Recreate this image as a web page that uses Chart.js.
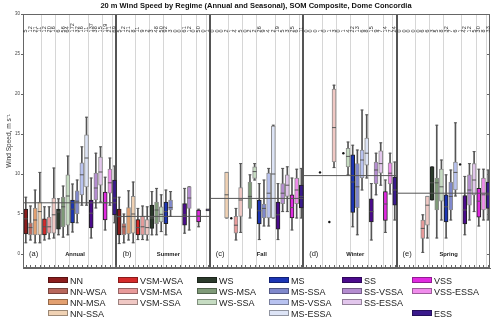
<!DOCTYPE html>
<html>
<head>
<meta charset="utf-8">
<script src="https://cdn.jsdelivr.net/npm/chart.js@4.4.0/dist/chart.umd.min.js"></script>
<style>
body { margin: 0; background: #fff; }
#wrap { position: relative; width: 500px; height: 322px; font-family: "Liberation Sans", Arial, sans-serif; overflow: hidden; }
#c { position: absolute; left: 0; top: 0; }
#title { position: absolute; left: 6px; top: 1px; width: 500px; text-align: center; font-size: 7.5px; line-height: 10px; font-weight: bold; color: #111; white-space: nowrap; }
.li { position: absolute; height: 11px; line-height: 11px; font-size: 9px; color: #222; white-space: nowrap; }
.sw { display: inline-block; width: 18px; height: 4px; vertical-align: middle; margin-right: 2px; margin-top: -2px; }
</style>
</head>
<body>
<div id="wrap">
  <canvas id="c" width="500" height="322"></canvas>
  <div id="title">20 m Wind Speed by Regime (Annual and Seasonal), SOM Composite, Dome Concordia</div>
  <div id="legend"></div>
</div>
<script>
// regimes, seasons and tick labels
const regimes = ['NN', 'NN-WSA', 'NN-MSA', 'NN-SSA', 'VSM-WSA', 'VSM-MSA', 'VSM-SSA', 'WS', 'WS-MSA', 'WS-SSA',
                 'MS', 'MS-SSA', 'MS-VSSA', 'MS-ESSA', 'SS', 'SS-VSSA', 'SS-ESSA', 'VSS', 'VSS-ESSA', 'ESS'];
const seasons = ['Annual', 'Summer', 'Fall', 'Winter', 'Spring'];
const panelTags = ['(a)', '(b)', '(c)', '(d)', '(e)'];
const seasonMeans = [6.4, 4.7, 6.95, 9.8, 7.6];
const yTicks = [0, 5, 10, 15, 20, 25, 30];

// box statistics, 20 regimes per season (Annual, Summer, Fall, Winter, Spring)
const whiskerLow = [
  1.4, 1.75, 1.4, 1.4, 1.75, 1.9, 2.0, 2.4, 2.1, 2.4, 2.75, 3.9, 6.1, 6.1, 2.0, 5.75, 6.5, 3.0, 6.1, 3.9,
  1.3, 1.4, 1.75, 1.4, 1.8, 1.8, 1.75, 2.4, 2.4, 2.8, 2.4, 4.7, null, null, 2.6, 3.0, null, 3.4, null, null,
  null, null, null, 4.5, null, 1.75, 2.7, null, 4.5, 9.25, 1.8, 3.5, 3.5, 4.5, 1.8, 5.3, 5.3, 3.0, 4.5, 4.5,
  null, null, null, null, null, null, 10.8, null, null, 9.9, 3.4, 2.4, 8.0, 9.5, 1.75, 7.4, 8.6, 2.7, 7.5, 4.25,
  null, null, null, null, null, 0.2, 2.0, 6.75, 2.0, 4.25, 2.0, 4.25, 7.25, null, 2.4, 4.25, 5.3, 3.5, 4.25, 4.25
];
const q1 = [
  2.5, 2.4, 2.4, 2.4, 2.4, 2.6, 2.6, 3.1, 3.4, 3.6, 3.9, 5.0, 7.4, 8.4, 3.25, 6.75, 8.6, 4.25, 7.6, 4.9,
  2.4, 2.4, 2.5, 2.6, 2.4, 2.4, 2.4, 3.2, 3.8, 4.0, 3.8, 5.5, null, null, 3.6, 5.7, null, 4.0, null, 5.4,
  null, null, null, 4.5, null, 2.6, 4.7, null, 5.7, 9.45, 3.75, 4.5, 4.5, 4.5, 3.1, 6.3, 7.2, 4.5, 6.3, 5.75,
  null, null, null, null, null, null, 11.5, null, null, 10.9, 5.2, 5.8, 9.5, 11.1, 4.0, 8.8, 10.1, 4.2, 8.75, 6.1,
  null, null, null, null, null, 1.96, 3.6, 6.75, 5.5, 6.6, 4.0, 5.5, 8.0, null, 3.75, 6.1, 7.4, 4.6, 5.5, 5.7
];
const median = [
  4.4, 3.3, 4.25, 5.3, 3.4, 3.4, 4.9, 5.25, 5.9, 7.25, 5.6, 6.6, 9.9, 12.0, 5.1, 8.25, 10.25, 6.4, 8.9, 7.0,
  4.66, 3.4, 4.7, 5.0, 3.3, 3.4, 3.3, 4.5, 5.5, 4.96, 5.3, 5.8, null, null, 4.9, 7.0, null, 4.75, null, 5.5,
  null, null, null, 7.4, null, 3.6, 6.75, null, 7.2, 10.3, 5.4, 5.7, 7.6, 10.0, 4.9, 7.6, 8.6, 5.8, 8.0, 7.2,
  null, null, null, null, null, null, 15.8, null, null, 12.2, 9.0, 8.4, 11.75, 12.6, 5.3, 10.5, 11.3, 6.25, 10.1, 8.0,
  null, null, null, null, null, 3.2, 6.1, 8.9, 8.9, 8.4, 5.9, 7.2, 10.2, null, 5.5, 8.0, 9.25, 6.6, 7.4, 7.4
];
const q3 = [
  5.6, 3.9, 5.75, 6.5, 4.4, 4.6, 7.0, 5.6, 7.1, 9.9, 6.75, 7.9, 11.4, 14.9, 6.75, 10.1, 12.1, 7.75, 10.6, 9.25,
  5.6, 3.8, 5.8, 7.2, 4.3, 4.7, 4.3, 6.1, 6.5, 5.9, 6.5, 6.75, null, null, 6.3, 8.4, null, 5.5, null, 5.65,
  null, null, null, 10.2, null, 4.7, 8.3, null, 9.0, 10.9, 6.75, 6.25, 10.1, 16.0, 6.5, 8.8, 9.9, 7.4, 9.5, 8.6,
  null, null, null, null, null, null, 20.6, null, null, 13.2, 12.4, 11.3, 13.0, 14.5, 6.9, 11.5, 12.9, 7.8, 11.4, 9.6,
  null, null, null, null, null, 4.25, 7.2, 10.9, 9.5, 10.6, 7.4, 9.0, 11.5, null, 7.3, 9.9, 11.3, 8.2, 9.5, 9.0
];
const whiskerHigh = [
  7.1, 6.0, 8.0, 10.2, 5.9, 5.9, 10.75, 6.9, 8.5, 12.25, 8.75, 9.25, 13.4, 17.1, 9.5, 12.6, 13.4, 9.6, 12.0, 11.0,
  7.1, 5.0, 7.9, 9.0, 5.7, 6.0, 5.9, 7.8, 8.2, 7.4, 8.0, 7.8, null, null, 8.2, 8.4, null, 5.6, null, null,
  null, null, null, 10.2, null, 5.7, 11.3, null, 9.9, 11.3, 8.8, 9.25, 10.7, 16.1, 8.8, 10.7, 10.9, 9.5, 10.6, 10.7,
  null, null, null, null, null, null, 21.1, null, null, 14.0, 13.6, 13.0, 18.0, 17.4, 8.8, 12.6, 13.9, 9.25, 12.6, 11.5,
  null, null, null, null, null, 4.9, 7.2, 10.9, 16.1, 11.75, 9.9, 10.5, 16.4, null, 9.7, 11.3, 12.8, 10.6, 10.6, 10.5
];
const outlierIdx = [44, 63, 65, 68, 93];
const outlierVal = [4.46, 10.2, 4.0, 12.6, 11.2];
const counts = [
  5, 12, 21, 11, 12, 20, 16, 6, 56, 64, 172, 32, 16, 11, 137, 38, 15, 119, 21, 69,
  5, 12, 21, 8, 11, 9, 2, 3, 48, 50, 92, 3, 0, 0, 61, 12, 0, 50, 0, 1,
  0, 0, 0, 2, 1, 4, 5, 0, 2, 2, 26, 9, 4, 2, 19, 5, 3, 25, 6, 11,
  0, 0, 0, 1, 0, 1, 3, 0, 1, 4, 22, 13, 6, 8, 15, 9, 7, 14, 7, 24,
  0, 0, 0, 0, 0, 6, 6, 3, 5, 8, 32, 7, 6, 1, 42, 12, 5, 30, 8, 33
];

// styling
const colors = ['#8b1c1c', '#b8675c', '#e3a070', '#f0d2b4', '#d42a2a', '#e89a9a', '#f0c8c4', '#2b3a2b', '#7f9a78', '#c6dcc2',
                '#1b34b4', '#7f88cc', '#b8c2f0', '#dde4f6', '#4b0a8c', '#b48cd0', '#e2c6ec', '#e02ae0', '#f08cec', '#3a1a8c'];
const darkEdge = [0, 4, 7, 10, 14, 17, 19];
const groupBreaks = [3.45, 6.45, 9.45, 13.4, 16.5, 18.6];
const xMin = -0.6, xMax = 99.4;

const N = regimes.length;
const boxData = [], boxFill = [], boxEdge = [], whiskData = [], capData = [], medData = [];
for (let k = 0; k < q1.length; k++) {
  const r = k % N;
  if (q1[k] !== null) {
    boxData.push({x: k, y: [q1[k], q3[k]]});
    boxFill.push(colors[r]);
    boxEdge.push(darkEdge.includes(r) ? '#222' : '#8c8c8c');
    medData.push({x: k, y: median[k]});
  }
  if (whiskerLow[k] !== null) {
    whiskData.push({x: k, y: [whiskerLow[k], whiskerHigh[k]]});
    capData.push({x: k, y: whiskerLow[k]}, {x: k, y: whiskerHigh[k]});
  }
}

const panelEdges = [1, 2, 3, 4].map(p => p * N + xMin);
const separators = [];
seasons.forEach((s, p) => groupBreaks.forEach(g => separators.push(p * N + g)));

const meanLines = seasonMeans.map((m, p) => ({
  type: 'line',
  data: [{x: p * N + xMin, y: m}, {x: p * N + N + xMin, y: m}],
  borderColor: '#555',
  borderWidth: 1,
  pointRadius: 0,
  order: 0
}));

const overlay = {
  id: 'overlay',
  afterDatasetsDraw(chart) {
    const {ctx, chartArea: a, scales: {x, y}} = chart;
    ctx.save();
    ctx.strokeStyle = '#666';
    ctx.lineWidth = 1;
    ctx.strokeRect(a.left + 0.5, a.top + 0.5, a.width - 1, a.height - 1);
    ctx.beginPath();
    for (let i = 0; i < counts.length; i++) {
      const px = Math.round(x.getPixelForValue(i)) + 0.5;
      ctx.moveTo(px, a.bottom);
      ctx.lineTo(px, a.bottom - 3);
    }
    yTicks.forEach(v => {
      const py = Math.round(y.getPixelForValue(v)) + 0.5;
      ctx.moveTo(a.right, py);
      ctx.lineTo(a.right - 3, py);
    });
    ctx.stroke();

    ctx.fillStyle = '#333';
    ctx.font = '5.5px "Liberation Sans", Arial, sans-serif';
    ctx.textAlign = 'left';
    ctx.textBaseline = 'middle';
    counts.forEach((c, i) => {
      ctx.save();
      ctx.translate(x.getPixelForValue(i), y.getPixelForValue(27.7));
      ctx.rotate(-Math.PI / 2);
      ctx.fillText(String(c), 0, 0);
      ctx.restore();
    });

    const y0 = y.getPixelForValue(0);
    seasons.forEach((s, p) => {
      const left = x.getPixelForValue(p * N + xMin);
      ctx.fillStyle = '#222';
      ctx.font = '7.5px "Liberation Sans", Arial, sans-serif';
      ctx.textAlign = 'left';
      ctx.fillText(panelTags[p], left + 6, y0);
      ctx.font = 'bold 5.8px "Liberation Sans", Arial, sans-serif';
      ctx.textAlign = 'center';
      ctx.fillText(s, left + 52, y0);
    });
    ctx.restore();
  }
};

Chart.defaults.font.family = '"Liberation Sans", Arial, sans-serif';

new Chart(document.getElementById('c'), {
  type: 'bar',
  data: {
    datasets: [
      ...meanLines,
      {type: 'scatter', data: medData, pointStyle: 'line', pointRadius: 2, borderColor: '#555', borderWidth: 1, order: 1},
      {type: 'scatter', data: outlierIdx.map((k, j) => ({x: k, y: outlierVal[j]})), pointStyle: 'circle',
       pointRadius: 1.2, backgroundColor: '#111', borderColor: '#111', borderWidth: 0, order: 1},
      {type: 'bar', data: boxData, backgroundColor: boxFill, borderColor: boxEdge, borderWidth: 1,
       borderSkipped: false, barThickness: 4, grouped: false, order: 2},
      {type: 'scatter', data: capData, pointStyle: 'line', pointRadius: 1.5, borderColor: '#555', borderWidth: 1, order: 3},
      {type: 'bar', data: whiskData, backgroundColor: '#555', borderWidth: 0, barThickness: 1, grouped: false, order: 4}
    ]
  },
  options: {
    responsive: false,
    animation: false,
    devicePixelRatio: 1,
    events: [],
    layout: {padding: {left: 0, right: 10, top: 14, bottom: 54}},
    plugins: {
      legend: {display: false},
      tooltip: {enabled: false},
      title: {display: false}
    },
    scales: {
      x: {
        type: 'linear',
        min: xMin,
        max: xMax,
        offset: false,
        afterBuildTicks: s => {
          s.ticks = panelEdges.concat(separators).map(v => ({value: v}));
        },
        ticks: {display: false},
        grid: {
          offset: false,
          drawTicks: false,
          color: c => panelEdges.includes(c.tick.value) ? '#555' : '#d6d6d6',
          lineWidth: c => panelEdges.includes(c.tick.value) ? 2 : 1
        },
        border: {display: true, color: '#666'}
      },
      y: {
        min: -1.75,
        max: 30,
        afterBuildTicks: s => {
          s.ticks = yTicks.map(v => ({value: v}));
        },
        afterFit: s => { s.width = 23; },
        ticks: {font: {size: 4.5}, color: '#444', padding: 1},
        grid: {drawOnChartArea: false, tickLength: 2, color: '#666'},
        border: {display: true, color: '#666'},
        title: {display: true, text: 'Wind Speed, m s\u207B\u00B9', color: '#333', font: {size: 6.5}, padding: {top: 5, bottom: 0}}
      }
    }
  },
  plugins: [overlay]
});

// legend
const legendCol = [0, 0, 0, 0, 1, 1, 1, 2, 2, 2, 3, 3, 3, 3, 4, 4, 4, 5, 5, 5];
const legendRow = [0, 1, 2, 3, 0, 1, 2, 0, 1, 2, 0, 1, 2, 3, 0, 1, 2, 0, 1, 3];
const colLeft = [48, 118, 197, 269, 342, 412];
const rowTop = [275.5, 286.5, 297.5, 308.5];
const legend = document.getElementById('legend');
regimes.forEach((name, r) => {
  const item = document.createElement('div');
  item.className = 'li';
  item.style.left = colLeft[legendCol[r]] + 'px';
  item.style.top = rowTop[legendRow[r]] + 'px';
  const sw = document.createElement('span');
  sw.className = 'sw';
  sw.style.background = colors[r];
  sw.style.border = '0.5px solid rgba(0,0,0,0.35)';
  item.appendChild(sw);
  item.appendChild(document.createTextNode(name));
  legend.appendChild(item);
});
</script>
</body>
</html>
